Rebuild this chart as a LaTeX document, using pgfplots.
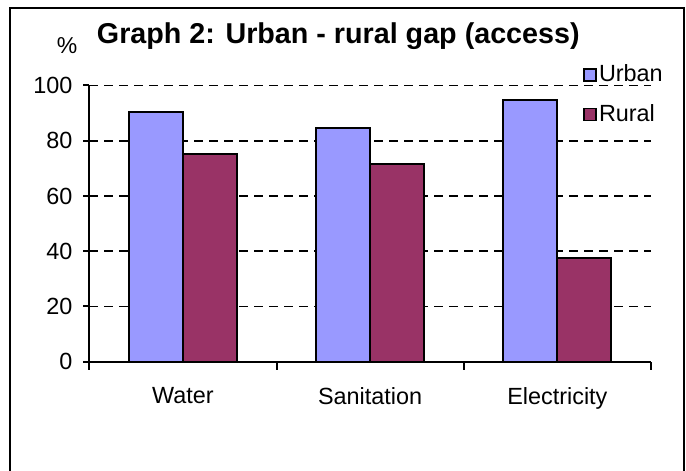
\documentclass[border=0pt]{standalone}
\usepackage{pgfplots}
\pgfplotsset{compat=1.18}
\usepackage{fontspec}
\setmainfont{Liberation Sans}

\definecolor{urban}{HTML}{9999FF}
\definecolor{rural}{HTML}{993366}

\pgfplotsset{
  sq legend/.style={
    legend image code/.code={%
      \draw[##1,/tikz/.cd,line width=1.6pt] (0pt,-7pt) rectangle (12pt,5pt);}
  }
}

\begin{document}
\begin{tikzpicture}[x=1pt,y=1pt]
\useasboundingbox (0,0) rectangle (686,471);
% outer frame
\draw[line width=2pt] (10,-5) -- (10,463) -- (684,463) -- (684,-5);

\node[font=\fontsize{28.7}{34}\selectfont\bfseries, anchor=base] at (338.3,427.7)
  {Graph 2: Urban - rural gap (access)};
\node[font=\fontsize{23}{27}\selectfont, anchor=base] at (67,417) {\%};

\begin{axis}[
  at={(89.3pt,109.3pt)}, anchor=south west,
  scale only axis, width=561.7pt, height=276.2pt,
  xmin=-0.5, xmax=2.5, ymin=0, ymax=100,
  axis x line*=bottom, axis y line*=left,
  axis line style={-, line width=2pt},
  xtick={0,1,2},
  xticklabels={Water,Sanitation,Electricity},
  minor xtick={-0.5,0.5,1.5,2.5},
  major x tick style={draw=none},
  ytick={0,20,40,60,80,100},
  tick align=outside,
  major tick length=6pt,
  minor tick length=8pt,
  tick style={line width=2pt, black},
  ymajorgrids,
  major grid style={black, line width=1.8pt, dash pattern=on 9pt off 6pt},
  /pgf/number format/assume math mode=true,
  tick label style={font=\fontsize{23.4}{28}\selectfont},
  xticklabel style={yshift=-16pt},
  yticklabel style={xshift=-7.3pt},
  legend style={draw=none, fill=none, inner sep=0pt,
    at={(0.8784,1.075)}, anchor=north west,
    font=\fontsize{23.4}{28}\selectfont,
    nodes={inner sep=0pt},
    row sep=21pt},
  legend cell align=left,
  /tikz/every odd column/.append style={column sep=2.5pt},
]
\addplot[ybar, bar width=0.288, bar shift=-0.144, fill=urban, draw=black, line width=2pt, sq legend]
  coordinates {(0,90.4) (1,84.6) (2,94.7)};
\addlegendentry{Urban}
\addplot[ybar, bar width=0.288, bar shift=0.144, fill=rural, draw=black, line width=2pt, sq legend]
  coordinates {(0,75.2) (1,71.6) (2,37.7)};
\addlegendentry{Rural}
\end{axis}
\end{tikzpicture}
\end{document}
